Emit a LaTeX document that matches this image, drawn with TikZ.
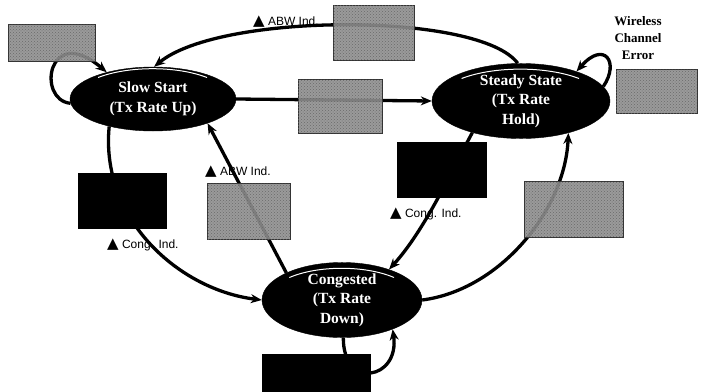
\documentclass[tikz,border=0pt]{standalone}
\usepackage{fontspec}
\setmainfont{Liberation Serif}
\newfontfamily\lsans{Liberation Sans}
\newfontfamily\dvs{DejaVu Sans}
\usetikzlibrary{shapes.geometric,arrows.meta,calc,patterns}
\begin{document}
\begin{tikzpicture}[x=1pt,y=-1pt,
  state/.style={ellipse,fill=black,draw=black,inner sep=0pt,text=white,align=center,
    font=\fontsize{15.5}{19.5}\selectfont\bfseries},
  conn/.style={line width=3.3pt,-{Stealth[length=11pt,width=9pt]}},
  gbox/.style={rectangle,draw=black!80,line width=0.7pt,fill=gray!88,fill opacity=0.9,inner sep=0pt,
    postaction={pattern=crosshatch dots,pattern color=black!60}},
  bbox/.style={rectangle,fill=black,inner sep=0pt},
  ind/.style={font=\lsans\fontsize{12}{13}\selectfont,anchor=west,inner sep=0pt},
  hl/.style={white,line width=1pt}]
\useasboundingbox (0,0) rectangle (703,391);

% states
\node[state,minimum width=166pt,minimum height=64pt] (slow) at (153,99) {Slow Start\\(Tx Rate Up)};
\node[state,minimum width=178pt,minimum height=67pt] (steady) at (521,101) {Steady State\\(Tx Rate\\Hold)};
\node[state,minimum width=160pt,minimum height=66pt] (cong) at (342,300) {Congested\\(Tx Rate\\Down)};

% highlights
\draw[hl] ($(slow.center)+(54pt,21.5pt)$) arc[start angle=45,end angle=135,x radius=77pt,y radius=30pt];
\draw[hl] ($(steady.center)+(58pt,22.5pt)$) arc[start angle=45,end angle=135,x radius=83pt,y radius=32pt];
\draw[hl] ($(cong.center)+(52pt,22.5pt)$) arc[start angle=45,end angle=135,x radius=74pt,y radius=31.5pt];

% connectors
\draw[conn] (steady.95) .. controls (480,12) and (220,12) .. (slow.88);
\draw[conn] (slow.183) .. controls (36,100) and (48,22) .. (slow.150);
\draw[conn] (slow.east) -- (steady.west);
\draw[conn] (steady.10) .. controls (620,62) and (604,40) .. (steady.28);
\draw[conn] (slow.212) .. controls (100,220) and (180,290) .. (cong.west);
\draw[conn] (cong.154) -- (slow.336);
\draw[conn] (steady.213) .. controls (452,170) and (425,230) .. (cong.33);
\draw[conn] (cong.east) .. controls (500,290) and (565,210) .. (steady.326);
\draw[conn] (cong.272) .. controls (343,390) and (400,380) .. (cong.330);

% boxes
\node[gbox,minimum width=87pt,minimum height=37pt] (g1) at (51.5,42.5) {};
\node[gbox,minimum width=81pt,minimum height=55pt] (g2) at (373.5,32.5) {};
\node[gbox,minimum width=84pt,minimum height=54pt] (g3) at (340,106) {};
\node[gbox,minimum width=81pt,minimum height=44pt] (g4) at (656.5,91) {};
\node[gbox,minimum width=83pt,minimum height=56pt] (g5) at (248.5,211) {};
\node[gbox,minimum width=99pt,minimum height=56pt] (g6) at (573.5,209) {};
\node[bbox,minimum width=89pt,minimum height=56pt] (b1) at (122.5,201) {};
\node[bbox,minimum width=90pt,minimum height=56pt] (b2) at (442,170) {};
\node[bbox,minimum width=109pt,minimum height=38pt] (b3) at (316.5,373) {};

% labels
\node[ind] (l1) at (253,22) {{\dvs\fontsize{15}{15}\selectfont ▲} ABW Ind.};
\node[ind] (l2) at (205,172) {{\dvs\fontsize{15}{15}\selectfont ▲} ABW Ind.};
\node[ind] (l3) at (107,245) {{\dvs\fontsize{15}{15}\selectfont ▲} Cong. Ind.};
\node[ind] (l4) at (390,214) {{\dvs\fontsize{15}{15}\selectfont ▲} Cong. Ind.};
\node[font=\fontsize{13}{17}\selectfont\bfseries,align=center,inner sep=0pt] (wce) at (638,38) {Wireless\\Channel\\Error};
\end{tikzpicture}
\end{document}
